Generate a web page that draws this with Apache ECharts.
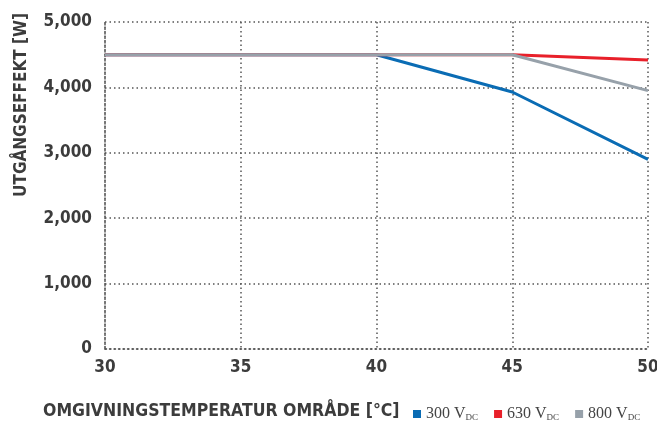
<!DOCTYPE html>
<html>
<head>
<meta charset="utf-8">
<script src="https://cdn.jsdelivr.net/npm/echarts@6/dist/echarts.min.js"></script>
<style>
  html, body { margin: 0; padding: 0; background: #fff; }
  #chart { width: 657px; height: 422px; }
</style>
</head>
<body>
<div id="chart"></div>
<script>
// temperatur (°C) och utgångseffekt (W)
const temps300 = [30, 40, 45, 50];
const power300 = [4500, 4500, 3930, 2900];
const temps630 = [30, 45, 50];
const power630 = [4500, 4500, 4420];
const temps800 = [30, 45, 50];
const power800 = [4500, 4500, 3950];
const seriesNames = ['300', '630', '800'];
const xTicks = [30, 35, 40, 45, 50];

const condensed = '"Liberation Sans Narrow", "DejaVu Sans Condensed", "Open Sans", sans-serif';
const labelColor = '#3c3c3c';
const dotted = { color: '#555', type: [1.5, 3], width: 1.5 };

const chart = echarts.init(document.getElementById('chart'));

function pairs(xs, ys) {
  return xs.map((x, i) => [x, ys[i]]);
}

chart.setOption({
  animation: false,
  grid: { left: 105, right: 9, top: 22, bottom: 73, outerBoundsMode: 'none' },
  title: {
    text: 'OMGIVNINGSTEMPERATUR OMRÅDE [°C]',
    left: 38,
    top: 397,
    textStyle: { fontFamily: condensed, fontWeight: 'bold', fontSize: 17.5, color: labelColor }
  },
  graphic: [{
    type: 'text',
    x: 22,
    y: 105,
    rotation: Math.PI / 2,
    style: {
      text: 'UTGÅNGSEFFEKT [W]',
      fontFamily: condensed,
      fontWeight: 'bold',
      fontSize: 17,
      fill: labelColor,
      align: 'center',
      verticalAlign: 'middle'
    }
  }],
  legend: {
    left: 408,
    top: 401,
    itemWidth: 8,
    itemHeight: 8,
    itemGap: 16,
    icon: 'rect',
    data: seriesNames,
    formatter: name => name + ' V{sub|DC}',
    textStyle: {
      fontFamily: '"Liberation Serif", "DejaVu Serif", serif',
      fontSize: 16,
      color: '#444',
      rich: {
        sub: { fontFamily: '"Liberation Serif", serif', fontSize: 9, color: '#444', padding: [8, 0, 0, 0] }
      }
    }
  },
  xAxis: {
    type: 'value',
    min: xTicks[0],
    max: xTicks[xTicks.length - 1],
    interval: 5,
    axisLine: { show: true, lineStyle: dotted },
    axisTick: { show: false },
    splitLine: { show: true, lineStyle: dotted },
    axisLabel: { fontFamily: condensed, fontWeight: 'bold', fontSize: 17, color: labelColor, margin: 10 }
  },
  yAxis: {
    type: 'value',
    min: 0,
    max: 5000,
    interval: 1000,
    axisLine: { show: true, lineStyle: dotted },
    axisTick: { show: false },
    splitLine: { show: true, lineStyle: dotted },
    axisLabel: {
      fontFamily: condensed, fontWeight: 'bold', fontSize: 17, color: labelColor, margin: 13,
      formatter: v => v.toLocaleString('en-US')
    }
  },
  series: [
    {
      name: '300', type: 'line', data: pairs(temps300, power300),
      symbol: 'none', color: '#0a6cb4', lineStyle: { width: 3, color: '#0a6cb4' }, z: 2
    },
    {
      name: '630', type: 'line', data: pairs(temps630, power630),
      symbol: 'none', color: '#e8202a', lineStyle: { width: 3, color: '#e8202a' }, z: 3
    },
    {
      name: '800', type: 'line', data: pairs(temps800, power800),
      symbol: 'none', color: '#97a1aa', lineStyle: { width: 3, color: '#97a1aa' }, z: 4
    }
  ]
});
</script>
</body>
</html>
